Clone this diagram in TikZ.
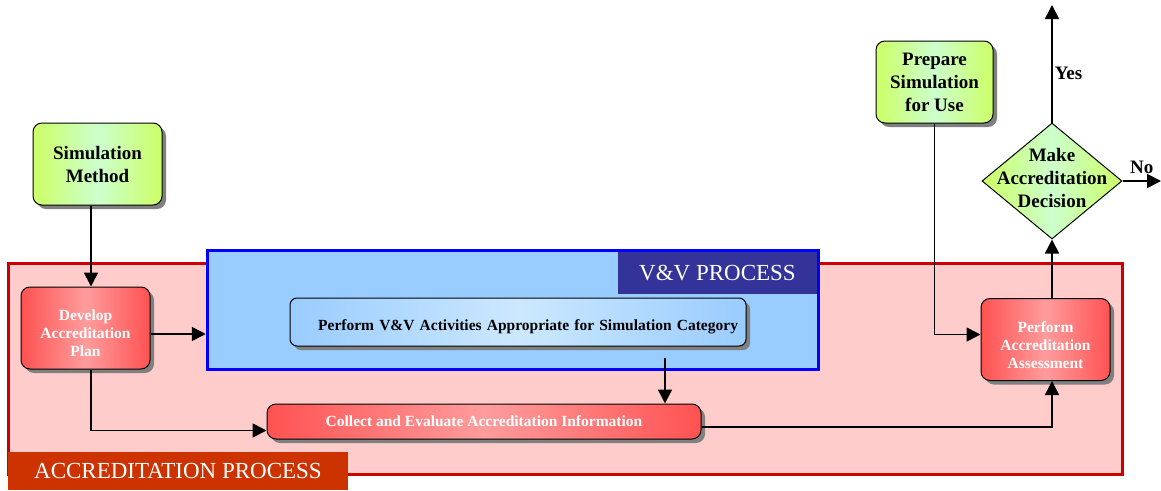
\documentclass[tikz,border=0pt]{standalone}
\usepackage{fontspec}
\setmainfont{Liberation Serif}
\usetikzlibrary{shapes.geometric, arrows.meta, positioning, calc, shadows}
\definecolor{limeedge}{HTML}{CCFF66}
\definecolor{limemid}{HTML}{CCFFCC}
\definecolor{rededge}{HTML}{FF5252}
\definecolor{redmid}{HTML}{FF9C9C}
\definecolor{blueedge}{HTML}{99CCFF}
\definecolor{bluemid}{HTML}{CCE8FF}
\definecolor{accfill}{HTML}{FFCCCC}
\definecolor{accline}{HTML}{CC0000}
\definecolor{acctitle}{HTML}{CC3300}
\definecolor{vvfill}{HTML}{99CCFF}
\definecolor{vvline}{HTML}{0000FF}
\definecolor{vvtitle}{HTML}{333399}
% text set a little below the box centre
\newcommand{\lowered}[2]{\raisebox{#1}[\height][\depth]{\begin{tabular}{@{}c@{}}#2\end{tabular}}}
\tikzset{
  shade/.style   = {drop shadow={shadow xshift=4pt, shadow yshift=-4pt,
                    fill=black!50, opacity=1}},
  inbox/.style   = {rectangle, rounded corners=9pt, draw=black, line width=1pt,
                    left color=limeedge, right color=limeedge, middle color=limemid,
                    minimum width=129pt, minimum height=82pt, align=center,
                    font=\fontsize{19}{23}\selectfont\bfseries, inner sep=2pt, shade},
  actbox/.style  = {rectangle, rounded corners=9pt, draw=black, line width=1pt,
                    left color=rededge, right color=rededge, middle color=redmid,
                    minimum width=129pt, minimum height=82pt, align=center,
                    text=white, font=\fontsize{15.5}{18}\selectfont\bfseries,
                    inner sep=2pt, shade},
  vvact/.style   = {rectangle, rounded corners=7pt, draw=black, line width=1pt,
                    left color=blueedge, right color=blueedge, middle color=bluemid,
                    minimum height=48pt, text width=440pt, align=right,
                    font=\fontsize{15.5}{18}\selectfont\bfseries, inner xsep=8pt, shade},
  decision/.style= {diamond, draw=black, line width=1pt,
                    left color=limeedge, right color=limeedge, middle color=limemid,
                    minimum width=140pt, minimum height=116pt, inner sep=0pt},
  title/.style   = {rectangle, text=white, inner sep=0pt,
                    font=\fontsize{23}{27}\selectfont},
  arr/.style     = {-{Triangle[length=14pt, width=14pt]}, line width=1.6pt, draw=black},
  lbl/.style     = {font=\fontsize{19}{23}\selectfont\bfseries, inner sep=2pt}
}
\begin{document}
\begin{tikzpicture}[x=1pt, y=-1pt]
  \useasboundingbox (0,0) rectangle (1161,490);
  % process frames
  \node[rectangle, draw=accline, line width=3pt, fill=accfill, minimum width=1114pt,
        minimum height=211pt] (accproc) at (565,368.5) {};
  \node[rectangle, fill=acctitle, minimum width=340pt, minimum height=38pt, title]
        (acctitle) at (178,471) {ACCREDITATION PROCESS};
  \node[rectangle, draw=vvline, line width=3.5pt, fill=vvfill, minimum width=611pt,
        minimum height=119pt] (vvproc) at (513,310) {};
  \node[rectangle, fill=vvtitle, minimum width=199pt, minimum height=42pt, title]
        (vvtitle) at (717.5,273) {V\&V PROCESS};

  % steps
  \node[inbox]    (simmeth) at (97.5,164)   {\lowered{-2pt}{Simulation\\Method}};
  \node[actbox]   (devplan) at (85.5,328)   {\lowered{-7pt}{Develop\\Accreditation\\Plan}};
  \node[vvact]    (vvwork)  at (518,322)    {\raisebox{-5pt}[\height][\depth]{Perform V\&V Activities Appropriate for Simulation Category}};
  \node[actbox, minimum width=434pt, minimum height=35pt]
                  (collect) at (484,421.5)  {Collect and Evaluate Accreditation Information};
  \node[actbox]   (assess)  at (1045.5,339.5) {\lowered{-7.5pt}{Perform\\Accreditation\\Assessment}};
  \node[inbox, minimum width=117pt]
                  (prepare) at (934.5,82)   {Prepare\\Simulation\\for Use};
  \node[decision, label={[lbl, align=center, yshift=3pt]center:Make\\Accreditation\\Decision}]
                  (decide)  at (1052,181)   {};
  \coordinate (yesend) at (1052,5);
  \coordinate (noend)  at (1161,181);

  \draw[arr] ([xshift=-6.5pt]simmeth.south) -- ([xshift=5.5pt]devplan.north);
  \draw[arr] ([yshift=-6pt]devplan.east) -- ([yshift=-6pt]devplan.east -| vvproc.west);
  \draw[arr] ([xshift=147pt, yshift=-11pt]vvwork.south) -- ([xshift=181pt]collect.north);
  \draw[arr] ([xshift=5.5pt]devplan.south) |- ([yshift=-9pt]collect.west);
  \draw[arr] ([yshift=-5.5pt]collect.east) -| ([xshift=6.5pt]assess.south);
  \draw[arr] (prepare.south) |- ([yshift=5pt]assess.west);
  \draw[arr] ([xshift=6.5pt]assess.north) -- (decide.south);
  \draw[arr] (decide.north) -- (yesend)
    node[lbl, pos=0.42, right] {Yes};
  \draw[arr] (decide.east) -- (noend)
    node[lbl, midway, above, yshift=5pt] {No};
\end{tikzpicture}
\end{document}
